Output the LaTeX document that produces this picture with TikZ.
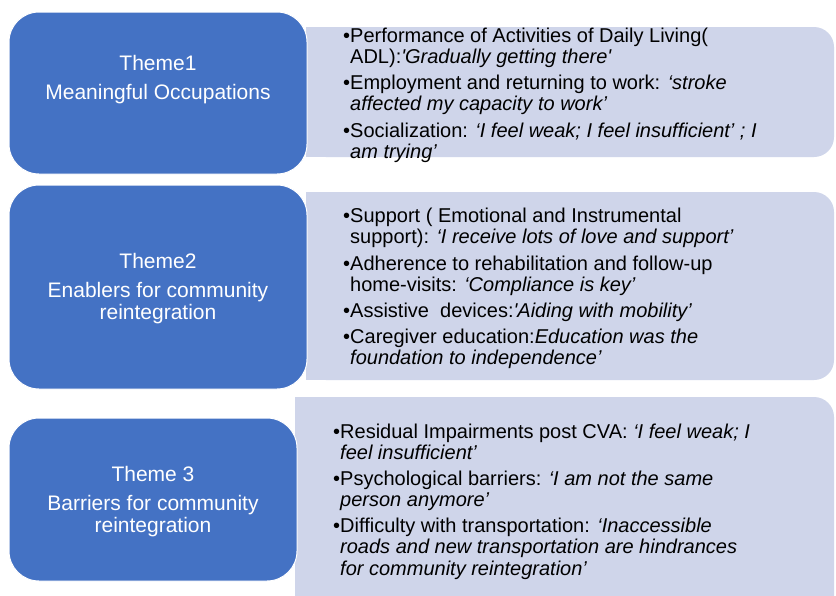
\documentclass[tikz,border=0pt]{standalone}
\usepackage{fontspec}
\setmainfont{Liberation Sans}
\definecolor{themeblue}{HTML}{4472C4}
\definecolor{quotefill}{HTML}{CFD5EA}

\tikzset{
  themebox/.style={rectangle, fill=themeblue, draw=white, line width=1pt,
    rounded corners=30pt, inner sep=0pt},
  panel/.style={fill=quotefill},
  titletext/.style={anchor=base, inner sep=0pt, text=white,
    font=\fontsize{21}{22}\selectfont},
  itemtext/.style={anchor=base west, inner sep=0pt, text=black,
    font=\fontsize{20}{21.7}\selectfont},
}
% one bullet point with a hanging indent
\newcommand{\quoteitem}[1]{\makebox[7pt][l]{•}\parbox[t]{480pt}{\raggedright #1}}
\newcommand{\sq}{\textquotesingle}

\begin{document}
\begin{tikzpicture}[x=1pt, y=-1pt]
  \useasboundingbox (0,0) rectangle (836,595);
  \fill[white] (0,0) rectangle (836,595);
  \clip (0,0) rectangle (836,595);

  % quotation panels, rounded on the right only
  \fill[panel, rounded corners=20pt] (306,27) rectangle (834,157);
  \fill[panel] (306,27) rectangle (380,157);
  \fill[panel, rounded corners=20pt] (306,192) rectangle (834,380);
  \fill[panel] (306,192) rectangle (380,380);
  \fill[panel, rounded corners=20pt] (295,397) rectangle (834,630);
  \fill[panel] (295,397) rectangle (380,630);

  % theme boxes
  \node[themebox, minimum width=298pt, minimum height=162pt] (t1) at (158,93) {};
  \node[themebox, minimum width=298pt, minimum height=204pt] (t2) at (158,287) {};
  \node[themebox, minimum width=288pt, minimum height=163pt] (t3) at (153,499.5) {};

  % theme titles
  \node[titletext] (h1) at (t1.center |- 0,70) {Theme1};
  \node[titletext] (s1) at (t1.center |- 0,99) {Meaningful Occupations};
  \node[titletext] (h2) at (t2.center |- 0,268) {Theme2};
  \node[titletext] (s2) at (t2.center |- 0,297)
    {\parbox[t]{280pt}{\centering Enablers for community\\reintegration}};
  \node[titletext] (h3) at (t3.center |- 0,481) {Theme 3};
  \node[titletext] (s3) at (t3.center |- 0,510)
    {\parbox[t]{270pt}{\centering Barriers for community\\reintegration}};

  % theme 1 quotations
  \node[itemtext] (q11) at (343,42) {\quoteitem{Performance of Activities of Daily Living(\\
    ADL):\textit{\sq Gradually getting there\sq}}};
  \node[itemtext] (q12) at (343,89) {\quoteitem{Employment and returning to work: \textit{‘stroke\\
    affected my capacity to work’}}};
  \node[itemtext] (q13) at (343,137) {\quoteitem{Socialization: \textit{‘I feel weak; I feel insufficient’ ; I\\
    am trying’}}};

  % theme 2 quotations
  \node[itemtext] (q21) at (343,222) {\quoteitem{Support ( Emotional and Instrumental\\
    support): \textit{‘I receive lots of love and support’}}};
  \node[itemtext] (q22) at (343,270) {\quoteitem{Adherence to rehabilitation and follow-up\\
    home-visits: \textit{‘Compliance is key’}}};
  \node[itemtext] (q23) at (343,317) {\quoteitem{Assistive\ \ devices:\textit{\sq Aiding with mobility’}}};
  \node[itemtext] (q24) at (343,343) {\quoteitem{Caregiver education:\textit{Education was the\\
    foundation to independence’}}};

  % theme 3 quotations
  \node[itemtext] (q31) at (333,438) {\quoteitem{Residual Impairments post CVA: \textit{‘I feel weak; I\\
    feel insufficient’}}};
  \node[itemtext] (q32) at (333,485) {\quoteitem{Psychological barriers: \textit{‘I am not the same\\
    person anymore’}}};
  \node[itemtext] (q33) at (333,532) {\quoteitem{Difficulty with transportation: \textit{‘Inaccessible\\
    roads and new transportation are hindrances\\for community reintegration’}}};
\end{tikzpicture}
\end{document}
